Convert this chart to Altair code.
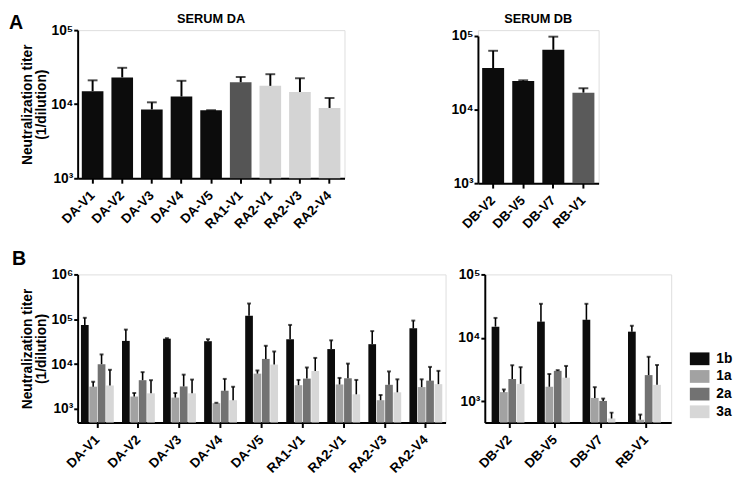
import altair as alt
import pandas as pd

FONT = "Liberation Sans"

# ---------------- Panel A data ----------------
a_left_cats = ["DA-V1", "DA-V2", "DA-V3", "DA-V4", "DA-V5", "RA1-V1", "RA2-V1", "RA2-V3", "RA2-V4"]
a_left_vals = [15000, 23000, 8500, 12700, 8300, 19800, 17700, 14600, 8900]
a_left_err = [21000, 31000, 10600, 20700, 8300, 23300, 25400, 22400, 12100]
a_left_grp = ["DA", "DA", "DA", "DA", "DA", "RA1", "RA2", "RA2", "RA2"]

a_right_cats = ["DB-V2", "DB-V5", "DB-V7", "RB-V1"]
a_right_vals = [36700, 24400, 65000, 17000]
a_right_err = [63000, 25000, 98000, 19500]
a_right_grp = ["DB", "DB", "DB", "RB"]

a_groups = ["DA", "RA1", "RA2", "DB", "RB"]
a_colors = ["#0c0c0c", "#555555", "#d4d4d4", "#0c0c0c", "#5a5a5a"]

# ---------------- Panel B data ----------------
genotypes = ["1b", "1a", "2a", "3a"]
geno_colors = ["#0c0c0c", "#a2a2a2", "#727272", "#d7d7d7"]

b_left_cats = ["DA-V1", "DA-V2", "DA-V3", "DA-V4", "DA-V5", "RA1-V1", "RA2-V1", "RA2-V3", "RA2-V4"]
b_left_1b = [75000, 33000, 37000, 32500, 120000, 35900, 21700, 27900, 62800]
b_left_1b_err = [108000, 59000, 38000, 36000, 225000, 75000, 34000, 54600, 93700]
b_left_1a = [3150, 1900, 1800, 1350, 6150, 3400, 3530, 1575, 3085]
b_left_1a_err = [4050, 2280, 2280, 1380, 7250, 4460, 4940, 2060, 4600]
b_left_2a = [10000, 4400, 3190, 2560, 13100, 4770, 4850, 3470, 4300]
b_left_2a_err = [16500, 6650, 5850, 4700, 25700, 8440, 10300, 6900, 8700]
b_left_3a = [3350, 2240, 2240, 1575, 9800, 7040, 2130, 2360, 3590]
b_left_3a_err = [7500, 4400, 4540, 3140, 19200, 13800, 4460, 4600, 7100]

b_right_cats = ["DB-V2", "DB-V5", "DB-V7", "RB-V1"]
b_right_1b = [15000, 18000, 19200, 12500]
b_right_1b_err = [20600, 34400, 34400, 15500]
b_right_1a = [1390, 1690, 1125, 510]
b_right_1a_err = [1530, 2680, 1665, 615]
b_right_2a = [2240, 3010, 1010, 2580]
b_right_2a_err = [3690, 3090, 1100, 5020]
b_right_3a = [1875, 2350, 533, 1810]
b_right_3a_err = [3440, 3600, 660, 3730]

panel_letters = ["A", "B"]
panel_titles = ["SERUM DA", "SERUM DB"]
y_title = ["Neutralization titer", "(1/dilution)"]

LABEL_EXPR = ("datum.value > 5e5 ? '10\u2076' : datum.value > 5e4 ? '10\u2075' : "
              "datum.value > 5e3 ? '10\u2074' : '10\u00b3'")


def y_axis(values, with_title):
    kw = dict(values=values, labelExpr=LABEL_EXPR, labelFont=FONT, labelFontSize=14,
              labelFontWeight="bold", labelColor="black", labelPadding=1,
              tickSize=4, tickWidth=2, tickColor="black", domainWidth=2,
              domainColor="black", grid=False)
    if with_title:
        kw.update(title=y_title, titleFont=FONT, titleFontSize=14, titleFontWeight="bold",
                  titleColor="black", titlePadding=2, titleLineHeight=15)
    else:
        kw.update(title=None)
    return alt.Axis(**kw)


X_AXIS = alt.Axis(labelAngle=-45, labelAlign="right", labelBaseline="middle",
                  labelFont=FONT, labelFontSize=13.5, labelFontWeight="bold",
                  labelColor="black", labelPadding=10, tickSize=5, tickWidth=2,
                  tickColor="black", domainWidth=2, domainColor="black", title=None)


def text_layer(txt, dx, dy, size, align, baseline):
    return alt.Chart(pd.DataFrame({"t": [txt]})).mark_text(
        font=FONT, fontSize=size, fontWeight="bold", align=align, baseline=baseline,
        color="black").encode(text="t:N", x=alt.value(dx), y=alt.value(dy))


def panel_a(cats, vals, errs, grps, width, height, top_gap, title, title_dy, with_ytitle,
            letter=None):
    df = pd.DataFrame({"cat": cats, "val": vals, "err": errs, "grp": grps})
    x = alt.X("cat:N", sort=cats, scale=alt.Scale(paddingInner=0.27, paddingOuter=0.14),
              axis=X_AXIS)
    y = alt.Y("val:Q",
              scale=alt.Scale(type="log", domain=[1000, 100000], nice=False,
                              range=[height, top_gap]),
              axis=y_axis([1000, 10000, 100000], with_ytitle), stack=None)
    base = alt.Chart(df)
    bars = base.mark_bar().encode(
        x=x, y=y, y2=alt.datum(1000),
        color=alt.Color("grp:N", scale=alt.Scale(domain=a_groups, range=a_colors), legend=None))
    rule = base.mark_rule(strokeWidth=2, color="black").encode(x=x, y="val:Q", y2="err:Q")
    cap = base.mark_tick(size=10, thickness=2, color="black").encode(x=x, y="err:Q")
    layers = [bars, rule, cap, text_layer(title, width / 2, title_dy, 13, "center", "middle")]
    if letter:
        layers.append(text_layer(letter, -70, -17, 20, "left", "top"))
    return alt.layer(*layers).properties(width=width, height=height)


def panel_b(cats, series, errs, width, height, domain, ticks, with_ytitle, letter=None,
            legend=False, outer=0.1):
    rows = []
    for g, vals, ers in zip(genotypes, series, errs):
        for c, v, e in zip(cats, vals, ers):
            rows.append({"cat": c, "geno": g, "val": v, "err": e})
    df = pd.DataFrame(rows)
    x = alt.X("cat:N", sort=cats, scale=alt.Scale(paddingInner=0.2, paddingOuter=outer),
              axis=X_AXIS)
    xo = alt.XOffset("geno:N", sort=genotypes, scale=alt.Scale(paddingInner=0.08))
    y = alt.Y("val:Q", scale=alt.Scale(type="log", domain=domain, nice=False),
              axis=y_axis(ticks, with_ytitle), stack=None)
    if legend:
        leg = alt.Legend(title=None, orient="none", legendX=width + 19, legendY=76,
                         symbolType="M-1,-0.65H1V0.65H-1Z", symbolSize=400,
                         symbolStrokeWidth=0,
                         labelFont=FONT, labelFontSize=14, labelFontWeight="bold",
                         labelColor="black", rowPadding=1, labelOffset=7)
    else:
        leg = None
    color = alt.Color("geno:N", sort=genotypes,
                      scale=alt.Scale(domain=genotypes, range=geno_colors), legend=leg)
    base = alt.Chart(df)
    bars = base.mark_bar().encode(x=x, xOffset=xo, y=y, y2=alt.datum(domain[0]), color=color)
    rule = base.mark_rule(strokeWidth=1.6, color="black").encode(x=x, xOffset=xo, y="val:Q", y2="err:Q")
    cap = base.mark_tick(size=4, thickness=2, color="black").encode(x=x, xOffset=xo, y="err:Q")
    layers = [bars, rule, cap]
    if letter:
        layers.append(text_layer(letter, -67, -26, 20, "left", "top"))
    return alt.layer(*layers).properties(width=width, height=height)


a_left = panel_a(a_left_cats, a_left_vals, a_left_err, a_left_grp, 272, 151, 0,
                 panel_titles[0], -11, True, panel_letters[0])
a_right = panel_a(a_right_cats, a_right_vals, a_right_err, a_right_grp, 123, 156, 6,
                  panel_titles[1], -11, False, None)

b_left = panel_b(b_left_cats,
                 [b_left_1b, b_left_1a, b_left_2a, b_left_3a],
                 [b_left_1b_err, b_left_1a_err, b_left_2a_err, b_left_3a_err],
                 375, 151, [500, 1000000], [1000, 10000, 100000, 1000000], True,
                 panel_letters[1], outer=0.08)
b_right = panel_b(b_right_cats,
                  [b_right_1b, b_right_1a, b_right_2a, b_right_3a],
                  [b_right_1b_err, b_right_1a_err, b_right_2a_err, b_right_3a_err],
                  190, 151, [460, 100000], [1000, 10000, 100000], False, None,
                  legend=True, outer=0.15)

row_a = alt.hconcat(a_left, a_right, spacing=107).resolve_scale(color="independent")
row_b = alt.hconcat(b_left, b_right, spacing=11).resolve_scale(color="independent")

chart = alt.vconcat(row_a, row_b, spacing=16).resolve_scale(color="independent").properties(
    padding={"top": 0, "left": 0, "right": 0, "bottom": 0}
).configure_view(stroke=None).configure(background="white", padding=0)

chart.save("out.html", embed_options={"renderer": "svg", "actions": False})
